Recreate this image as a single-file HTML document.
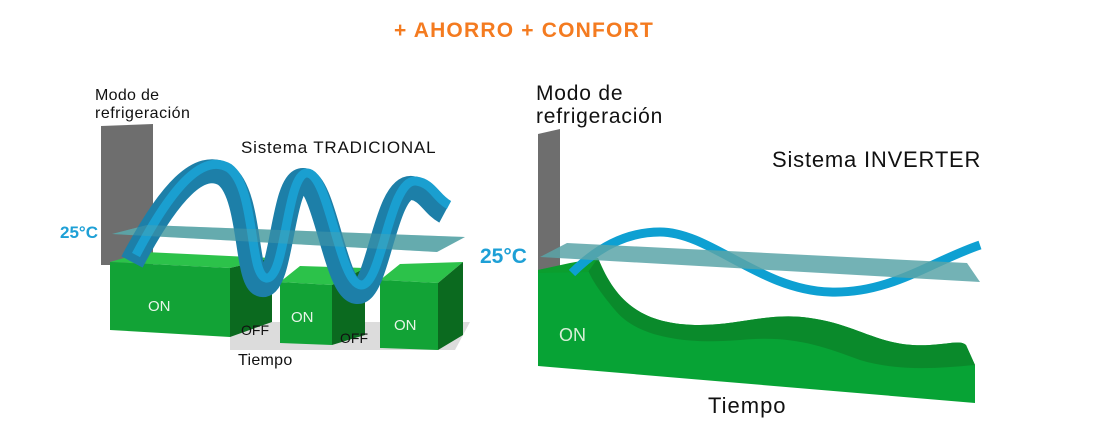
<!DOCTYPE html>
<html><head><meta charset="utf-8"><style>
html,body{margin:0;padding:0;background:#fff;}
svg{display:block;font-family:"Liberation Sans",sans-serif;}
</style></head><body>
<svg width="1102" height="444" viewBox="0 0 1102 444" xmlns="http://www.w3.org/2000/svg">
<text x="524" y="37" text-anchor="middle" font-size="21" font-weight="bold" letter-spacing="1.2" fill="#f47b20">+ AHORRO + CONFORT</text>

<!-- LEFT -->
<text x="95" y="100" font-size="16" letter-spacing="0.3" fill="#111">Modo de</text>
<text x="95" y="118" font-size="16" letter-spacing="0.5" fill="#111">refrigeración</text>
<text x="241" y="153" font-size="17" letter-spacing="0.8" fill="#111">Sistema TRADICIONAL</text>
<polygon points="101,126 153,124 153,265 101,265" fill="#6e6e6e"/>
<text x="60" y="238" font-size="17" font-weight="bold" fill="#1ea0d6">25°C</text>
<!-- floor -->
<polygon points="230,322 470,322 455,350 230,350" fill="#dcdcdc"/>
<!-- blocks -->
<polygon points="110,262 145,252 272,258 230,268" fill="#2cc24a"/>
<polygon points="110,262 230,268 230,337 110,330" fill="#12a336"/>
<polygon points="230,268 272,258 272,322 230,337" fill="#0b6a1f"/>
<polygon points="280,282 300,266 365,268 332,285" fill="#2cc24a"/>
<polygon points="280,282 332,285 332,345 280,343" fill="#12a336"/>
<polygon points="332,285 365,268 365,335 332,345" fill="#0b6a1f"/>
<polygon points="380,280 400,264 463,262 438,283" fill="#2cc24a"/>
<polygon points="380,280 438,283 438,350 380,348" fill="#12a336"/>
<polygon points="438,283 463,262 463,335 438,350" fill="#0b6a1f"/>
<!-- plane -->
<polygon points="112,234 147,225 465,237 437,252" fill="#5ba5a8" opacity="0.9"/>
<!-- wave -->
<path d="M132,262 C170,190 200,160 225,175 C252,195 245,282 262,285 C282,288 282,180 303,180 C325,180 335,290 357,292 C378,294 385,185 412,188 C428,190 432,205 445,212" fill="none" stroke="#1d7fa8" stroke-width="24" stroke-linecap="butt"/>
<path d="M132,262 C170,190 200,160 225,175 C252,195 245,282 262,285 C282,288 282,180 303,180 C325,180 335,290 357,292 C378,294 385,185 412,188 C428,190 432,205 445,212" fill="none" stroke="#1a9fd0" stroke-width="9" transform="translate(4,-7)"/>
<polygon points="112,234 147,225 465,237 437,252" fill="#5ba5a8" opacity="0.35"/>
<text x="148" y="311" font-size="15" fill="#e8f5e8">ON</text>
<text x="291" y="322" font-size="15" fill="#e8f5e8">ON</text>
<text x="394" y="330" font-size="15" fill="#e8f5e8">ON</text>
<text x="241" y="335" font-size="14" fill="#111">OFF</text>
<text x="340" y="343" font-size="14" fill="#111">OFF</text>
<text x="238" y="365" font-size="16" letter-spacing="0.3" fill="#111">Tiempo</text>

<!-- RIGHT -->
<text x="536" y="100" font-size="21" letter-spacing="0.8" fill="#111">Modo de</text>
<text x="536" y="123" font-size="21" letter-spacing="0.8" fill="#111">refrigeración</text>
<text x="772" y="167" font-size="22" letter-spacing="0.8" fill="#111">Sistema INVERTER</text>
<polygon points="538,134 560,129 560,365 538,366" fill="#6e6e6e"/>
<text x="480" y="263" font-size="21" font-weight="bold" fill="#1ea0d6">25°C</text>
<!-- green -->
<path d="M538,270 L598,258 C615,300 640,325 700,325 C740,325 770,312 810,318 C860,325 880,348 930,345 C950,344 960,340 966,345 L975,365 L975,403 L538,366 Z" fill="#07a335"/>
<path d="M588,270 L598,258 C615,300 640,325 700,325 C740,325 770,312 810,318 C860,325 880,348 930,345 C950,344 960,340 966,345 L975,365 C940,368 900,372 860,360 C820,345 790,335 740,340 C680,345 635,335 615,310 C600,292 592,280 588,270 Z" fill="#0a8a2b"/>
<polygon points="538,270 570,263 598,258 588,272 538,273" fill="#0b9e2e"/>
<!-- plane + wave -->
<path d="M572,273 C600,245 630,232 660,232 C710,232 760,290 830,292 C890,294 930,262 980,245" fill="none" stroke="#0ea0d2" stroke-width="9"/>
<polygon points="540,257 567,243 967,263 980,282" fill="#5ba5a8" opacity="0.85"/>
<text x="559" y="341" font-size="18" fill="#d8efd8">ON</text>
<text x="708" y="413" font-size="22" letter-spacing="1" fill="#111">Tiempo</text>
</svg>
</body></html>
